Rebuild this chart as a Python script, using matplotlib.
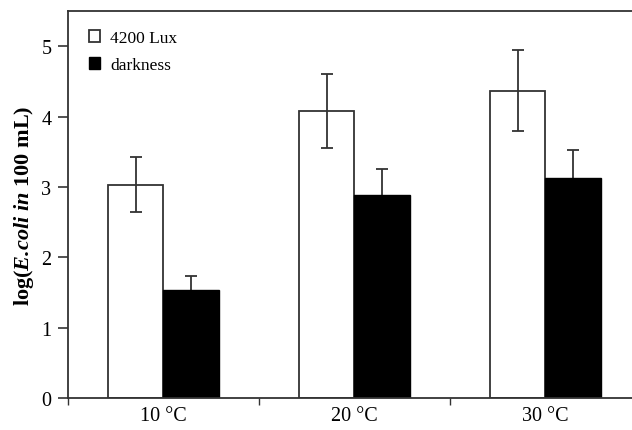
import matplotlib
matplotlib.use("Agg")
import matplotlib.pyplot as plt
import numpy as np

categories = ["10 °C", "20 °C", "30 °C"]
light_vals = [3.03, 4.08, 4.37]
light_err = [0.39, 0.52, 0.58]
dark_vals = [1.54, 2.89, 3.12]
dark_err = [0.20, 0.36, 0.40]
series_names = ["4200 Lux", "darkness"]
yticks = [0, 1, 2, 3, 4, 5]

plt.rcParams['font.family'] = ['Liberation Serif', 'DejaVu Serif']
plt.rcParams['mathtext.fontset'] = 'custom'
plt.rcParams['mathtext.rm'] = 'Liberation Serif'
plt.rcParams['mathtext.it'] = 'Liberation Serif:italic'
plt.rcParams['mathtext.bf'] = 'Liberation Serif:bold'
plt.rcParams['mathtext.bfit'] = 'Liberation Serif:italic:bold'

fig = plt.figure(figsize=(6.32, 4.31), dpi=100)
ax = fig.add_axes([0.1076, 0.0742, 0.9066, 0.898])

x = np.arange(len(categories))
w = 0.29
ec = '#333333'
ax.bar(x - w/2, light_vals, w, color='white', edgecolor=ec, linewidth=1.3,
       label=series_names[0], zorder=2)
ax.bar(x + w/2, dark_vals, w, color='black', edgecolor='black', linewidth=1.0,
       label=series_names[1], zorder=2)
ax.errorbar(x - w/2, light_vals, yerr=light_err, fmt='none', ecolor=ec,
            elinewidth=1.3, capsize=4.5, capthick=1.3, zorder=3)
eb = ax.errorbar(x + w/2, dark_vals, yerr=[np.zeros(len(dark_err)), dark_err],
                 fmt='none', ecolor=ec,
                 elinewidth=1.3, capsize=4.5, capthick=1.3, zorder=1)
for cl in eb[1]:
    if np.allclose(cl.get_ydata(), dark_vals):
        cl.set_visible(False)

ax.set_xlim(-0.5, 2.5)
ax.set_ylim(0, 5.5)
ax.set_yticks(yticks)
ax.set_xticks(x)
ax.set_xticklabels(categories)
ax.set_xticks([-0.5, 0.5, 1.5, 2.5], minor=True)
ax.tick_params(axis='x', which='major', length=0, pad=6, labelsize=14.5)
ax.tick_params(axis='x', which='minor', length=5, width=1.0, color=ec, direction='out')
ax.tick_params(axis='y', length=7, width=1.2, color=ec, pad=5, labelsize=14.5)

for s in ['left', 'top', 'bottom', 'right']:
    ax.spines[s].set_color(ec)
    ax.spines[s].set_linewidth(1.3)

ax.set_ylabel(r"log($\mathbfit{E.\!coli\ in}$ 100 mL)", fontsize=16,
              fontweight='bold', labelpad=4)

leg = ax.legend(loc='upper left', frameon=False, fontsize=12.5,
                handlelength=0.65, handleheight=0.65, handletextpad=0.58,
                labelspacing=0.62, borderaxespad=0.0, bbox_to_anchor=(0.0245, 0.968))

fig.savefig("out.png", dpi=100)
